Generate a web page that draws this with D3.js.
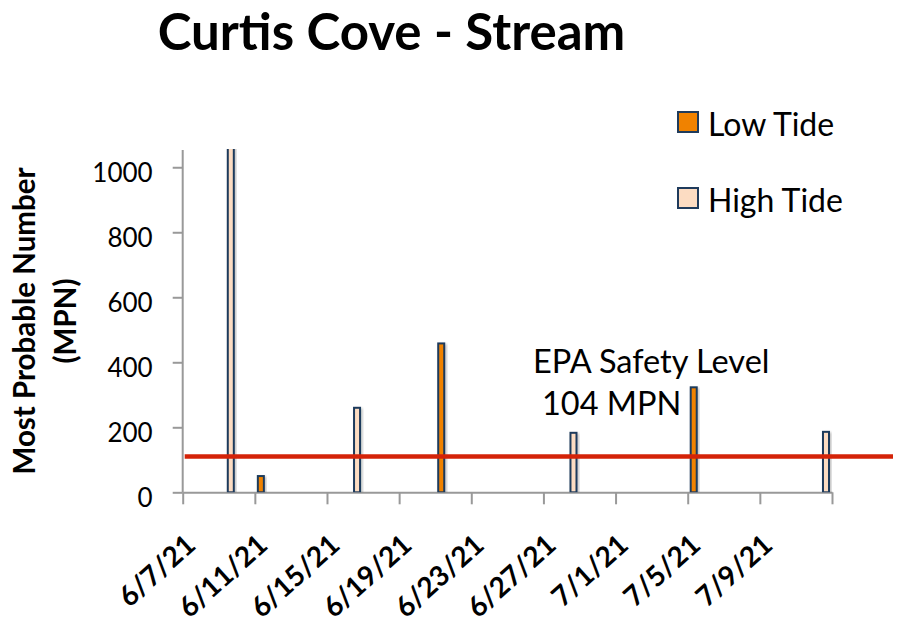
<!DOCTYPE html>
<html><head><meta charset="utf-8">
<script src="https://cdn.jsdelivr.net/npm/d3@7"></script>
<style>body{margin:0;background:#fff}svg{display:block}text{font-family:Lato,"Open Sans",sans-serif}</style>
</head><body><svg id="c" width="899" height="624"></svg>
<script>
const title = "Curtis Cove - Stream";
const yTitle = ["Most Probable Number", "(MPN)"];
const seriesNames = ["Low Tide", "High Tide"];
const lowDates = ["2021-06-11", "2021-06-21", "2021-07-05"];
const lowValues = [50, 458, 323];
const highDates = ["2021-06-09", "2021-06-16", "2021-06-28", "2021-07-12"];
const highValues = [1400, 260, 183, 186];
const yTicks = [0, 200, 400, 600, 800, 1000];
const xTickDates = ["2021-06-07","2021-06-11","2021-06-15","2021-06-19","2021-06-23","2021-06-27","2021-07-01","2021-07-05","2021-07-09","2021-07-13"];
const xTickLabels = ["6/7/21","6/11/21","6/15/21","6/19/21","6/23/21","6/27/21","7/1/21","7/5/21","7/9/21",""];
const epaValue = 110;
const epaLabel = ["EPA Safety Level", "104 MPN"];

const svg = d3.select("#c");
const L = 182.7, R = 832, T = 151, B = 492.3;
const x = d3.scaleUtc().domain([new Date("2021-06-07"), new Date("2021-07-13")]).range([L, R]);
const y = d3.scaleLinear().domain([0, 1050]).range([B, T]);
const dayW = x(new Date("2021-06-08")) - x(new Date("2021-06-07"));
const barW = dayW / 3;

const defs = svg.append("defs");
defs.append("clipPath").attr("id", "clip").append("rect").attr("x", L).attr("y", T - 2).attr("width", R - L + 60).attr("height", B - T + 2);
const f = defs.append("filter").attr("id", "sh").attr("x", "-50%").attr("y", "-10%").attr("width", "200%").attr("height", "120%");
f.append("feDropShadow").attr("dx", 1.5).attr("dy", 1.5).attr("stdDeviation", 1.2).attr("flood-color", "#000").attr("flood-opacity", 0.25);

// title
svg.append("text").attr("x", 391.5).attr("y", 50).attr("text-anchor", "middle")
  .attr("font-size", 51).attr("font-weight", 700).text(title);

// axes
const gy = svg.append("g").attr("transform", `translate(${L},0)`)
  .call(d3.axisLeft(y).tickValues(yTicks).tickSize(10).tickSizeOuter(0).tickPadding(20).tickFormat(d3.format("d")));
gy.select(".domain").attr("stroke", "#999").attr("stroke-width", 2).attr("d", `M0,${B}V${T - 1}`);
gy.selectAll(".tick line").attr("stroke", "#999").attr("stroke-width", 2);
gy.selectAll(".tick text").attr("font-size", 26).attr("fill", "#000").attr("dy", "0.53em")
  .attr("font-family", "Lato,'Open Sans',sans-serif");

const gx = svg.append("g").attr("transform", `translate(0,${B})`)
  .call(d3.axisBottom(x).tickValues(xTickDates.map(d => new Date(d))).tickSize(12).tickSizeOuter(0)
    .tickFormat((d, i) => xTickLabels[i]));
gx.select(".domain").attr("stroke", "#999").attr("stroke-width", 2);
gx.selectAll(".tick line").attr("stroke", "#999").attr("stroke-width", 2);
gx.selectAll(".tick text").attr("font-size", 28).attr("font-weight", 700).attr("fill", "#000")
  .attr("font-family", "Lato,'Open Sans',sans-serif")
  .attr("text-anchor", "end").attr("dy", 0).attr("y", 0)
  .attr("transform", "translate(14,55) rotate(-42)");

// y title
const yt = svg.append("text").attr("transform", "translate(0,321) rotate(-90)")
  .attr("text-anchor", "middle").attr("font-size", 29.5).attr("font-weight", 700);
yt.append("tspan").attr("x", 0).attr("y", 35).text(yTitle[0]);
yt.append("tspan").attr("x", 0).attr("y", 76).text(yTitle[1]);

// bars
const bars = svg.append("g").attr("clip-path", "url(#clip)");
function drawSeries(dates, vals, off, fill) {
  bars.selectAll(null).data(dates.map((d, i) => ({d: new Date(d), v: vals[i]}))).join("rect")
    .attr("x", d => x(d.d) + off * dayW - barW / 2)
    .attr("width", barW)
    .attr("y", d => y(d.v))
    .attr("height", d => B - y(d.v))
    .attr("fill", fill).attr("stroke", "#1f3b5c").attr("stroke-width", 2)
    .attr("filter", "url(#sh)");
}
drawSeries(lowDates, lowValues, 1 / 3, "#f08200");
drawSeries(highDates, highValues, 2 / 3, "#fcdcc2");

// EPA line
svg.append("line").attr("x1", L + 2).attr("x2", 893).attr("y1", y(epaValue)).attr("y2", y(epaValue))
  .attr("stroke", "#d42308").attr("stroke-width", 4.5);
svg.append("text").attr("x", 533).attr("y", 372.5).attr("font-size", 32.5).text(epaLabel[0]);
svg.append("text").attr("x", 542).attr("y", 415).attr("font-size", 32.5).text(epaLabel[1]);

// legend
const lg = svg.append("g");
[["#f08200", 112, 136], ["#fcdcc2", 188, 212]].forEach((s, i) => {
  lg.append("rect").attr("x", 678).attr("y", s[1]).attr("width", 20).attr("height", 20)
    .attr("fill", s[0]).attr("stroke", "#1f3b5c").attr("stroke-width", 2);
  lg.append("text").attr("x", 708).attr("y", s[2]).attr("font-size", 32).text(seriesNames[i]);
});
</script></body></html>
